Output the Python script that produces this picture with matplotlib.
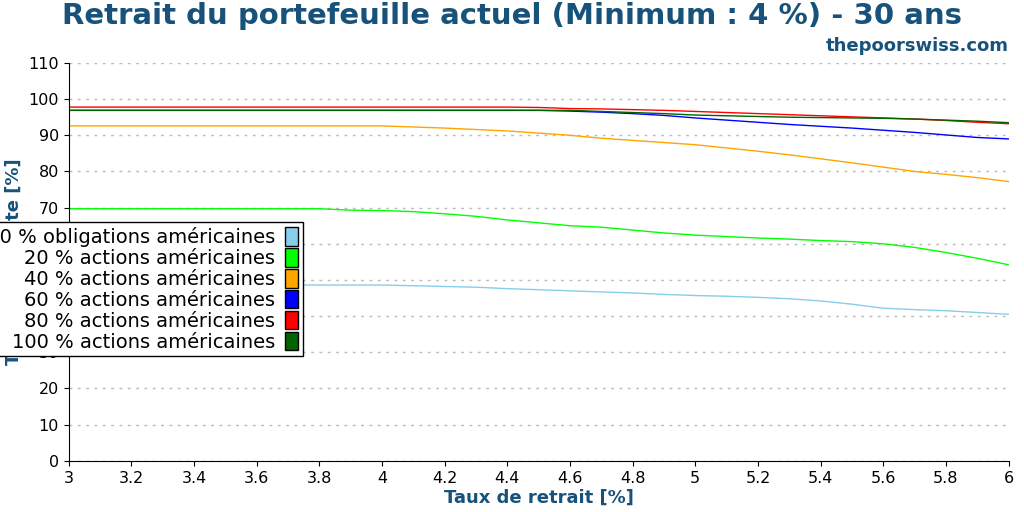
import numpy as np
import matplotlib
matplotlib.use("Agg")
import matplotlib.pyplot as plt

x = [round(3.0 + 0.1*i, 1) for i in range(31)]
bonds = [48.6]*11 + [48.4, 48.2, 48.0, 47.6, 47.3, 47.0, 46.7, 46.4, 46.0, 45.7, 45.5, 45.2, 44.8, 44.2, 43.3, 42.2, 41.8, 41.5, 41.0, 40.5]
s20 = [69.7]*9 + [69.3, 69.2, 68.9, 68.3, 67.6, 66.6, 65.8, 65.0, 64.6, 63.8, 63.0, 62.4, 62.0, 61.6, 61.3, 60.9, 60.6, 60.0, 59.0, 57.6, 56.0, 54.2]
s40 = [92.6]*11 + [92.3, 92.0, 91.6, 91.2, 90.6, 90.0, 89.2, 88.6, 88.0, 87.4, 86.5, 85.6, 84.6, 83.5, 82.4, 81.2, 80.0, 79.2, 78.3, 77.2]
s60 = [96.9]*16 + [96.7, 96.4, 96.0, 95.5, 94.8, 94.2, 93.6, 93.0, 92.5, 92.0, 91.4, 90.8, 90.1, 89.4, 89.0]
s80 = [97.8]*15 + [97.7, 97.4, 97.3, 97.1, 96.9, 96.6, 96.3, 96.0, 95.7, 95.4, 95.1, 94.8, 94.5, 94.1, 93.6, 93.2]
s100 = [96.9]*17 + [96.6, 96.3, 96.0, 95.6, 95.4, 95.2, 95.0, 94.9, 94.8, 94.7, 94.5, 94.2, 93.9, 93.5]

labels = ["100 % obligations américaines", "20 % actions américaines", "40 % actions américaines",
          "60 % actions américaines", "80 % actions américaines", "100 % actions américaines"]
colors = ["#87ceeb", "#00ff00", "#ffa500", "#0000ff", "#ff0000", "#006400"]
series = [bonds, s20, s40, s60, s80, s100]

fig = plt.figure(figsize=(10.24, 5.12), dpi=100)
ax = fig.add_axes([0.067, 0.1, 0.918, 0.777])
for s, c, l in zip(series, colors, labels):
    ax.plot(x, s, color=c, lw=1, label=l)
ax.set_xlim(3, 6)
ax.set_ylim(0, 110)
ax.set_xticks([3, 3.2, 3.4, 3.6, 3.8, 4, 4.2, 4.4, 4.6, 4.8, 5, 5.2, 5.4, 5.6, 5.8, 6])
ax.set_xticklabels(["3", "3.2", "3.4", "3.6", "3.8", "4", "4.2", "4.4", "4.6", "4.8", "5", "5.2", "5.4", "5.6", "5.8", "6"])
ax.set_yticks(range(0, 111, 10))
ax.yaxis.grid(True, ls=(0, (2, 4)), color="#bbbbbb", lw=1)
ax.spines["top"].set_visible(False)
ax.spines["right"].set_visible(False)
ax.tick_params(labelsize=11.5)
tc = "#17527a"
ax.set_xlabel("Taux de retrait [%]", fontsize=13, fontweight="bold", color=tc, labelpad=2)
ax.set_ylabel("Taux de réussite [%]", fontsize=13, fontweight="bold", color=tc, labelpad=4)
fig.text(0.5, 0.968, "Retrait du portefeuille actuel (Minimum : 4 %) - 30 ans", ha="center", va="center",
         fontsize=21, fontweight="bold", color=tc)
fig.text(0.985, 0.91, "thepoorswiss.com", ha="right", va="center", fontsize=13, fontweight="bold", color=tc)
handles = [plt.Rectangle((0, 0), 1, 1, fc=c, ec="black", lw=1) for c in colors]
leg = ax.legend(handles, labels, loc="upper right", bbox_to_anchor=(0.249, 0.60), markerfirst=False,
                fontsize=14, frameon=True, fancybox=False, edgecolor="black", framealpha=1,
                handlelength=0.65, handleheight=1.1, labelspacing=0.05, borderpad=0.25, handletextpad=0.5,
                borderaxespad=0)
for t in leg.get_texts():
    t.set_ha("right")
fig.savefig("out.png", dpi=100)
